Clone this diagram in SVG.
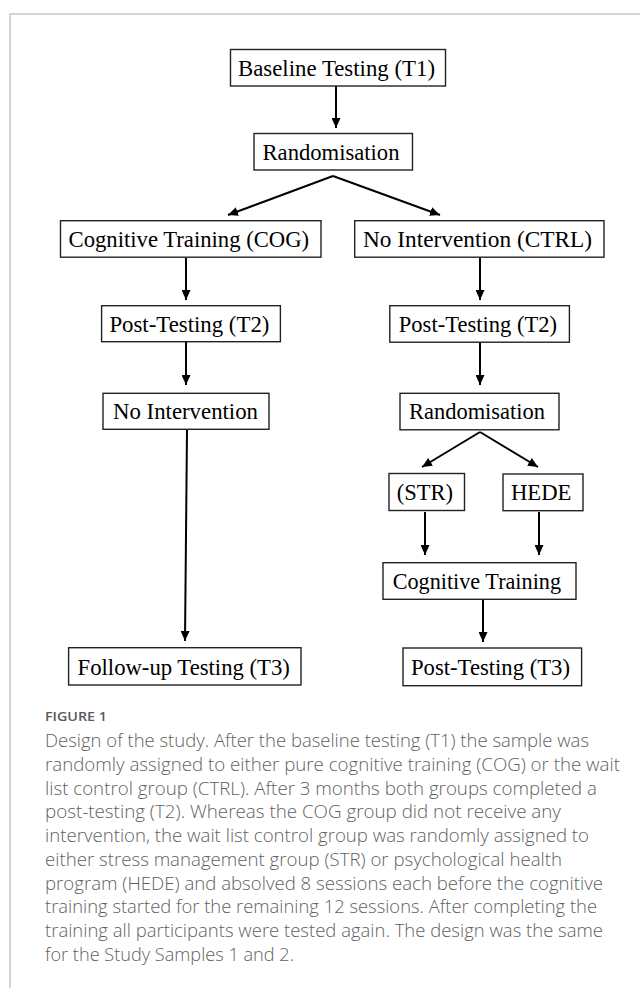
<svg xmlns="http://www.w3.org/2000/svg" width="640" height="988" viewBox="0 0 640 988">
<defs>
<marker id="ah" markerUnits="userSpaceOnUse" markerWidth="10" markerHeight="9" refX="10" refY="4.5" orient="auto">
<path d="M0,0 L10,4.5 L0,9 z" fill="#000"/>
</marker>
<style>
.box{fill:#fff;stroke:#222;stroke-width:1.4}
.lbl{font-family:"Liberation Serif","Times New Roman",serif;font-size:24px;fill:#000;text-anchor:start}
.con{stroke:#000;stroke-width:2;fill:none;marker-end:url(#ah)}
.frame{stroke:#c8c8c8;stroke-width:1.5;fill:none}
.cap{font-family:"Open Sans","Noto Sans",sans-serif;font-size:18.5px;font-weight:300;fill:#5f5f5f}
.fig{font-family:"Open Sans","Noto Sans",sans-serif;font-size:13px;font-weight:600;fill:#5a5a5a}
</style>
</defs>
<rect width="640" height="988" fill="#fff"/>
<path class="frame" d="M640,14 H10 V988"/>

<g id="connectors">
<line class="con" x1="336" y1="86" x2="336" y2="128"/>
<line class="con" x1="333" y1="176" x2="228" y2="215"/>
<line class="con" x1="333" y1="176" x2="440" y2="215"/>
<line class="con" x1="186" y1="258" x2="186" y2="300"/>
<line class="con" x1="480" y1="258" x2="480" y2="300"/>
<line class="con" x1="186" y1="342" x2="186" y2="385"/>
<line class="con" x1="480" y1="342" x2="480" y2="385"/>
<line class="con" x1="187" y1="430" x2="185" y2="641"/>
<line class="con" x1="480" y1="432" x2="422" y2="467"/>
<line class="con" x1="480" y1="432" x2="538" y2="467"/>
<line class="con" x1="425" y1="512" x2="425" y2="555"/>
<line class="con" x1="539" y1="512" x2="539" y2="555"/>
<line class="con" x1="483" y1="600" x2="483" y2="642"/>
</g>

<g id="baseline">
<rect class="box" x="230.5" y="49.5" width="215" height="36.5"/>
<text class="lbl" x="238" y="76" textLength="197" lengthAdjust="spacingAndGlyphs">Baseline Testing (T1)</text>
</g>
<g id="rand1">
<rect class="box" x="254" y="133.5" width="158.5" height="36.5"/>
<text class="lbl" x="262.5" y="160" textLength="137" lengthAdjust="spacingAndGlyphs">Randomisation</text>
</g>
<g id="cog">
<rect class="box" x="60.5" y="220.7" width="260.5" height="36.5"/>
<text class="lbl" x="68.6" y="247" textLength="240.5" lengthAdjust="spacingAndGlyphs">Cognitive Training (COG)</text>
</g>
<g id="ctrl">
<rect class="box" x="354.7" y="220.7" width="249.3" height="36.5"/>
<text class="lbl" x="363" y="247" textLength="229" lengthAdjust="spacingAndGlyphs">No Intervention  (CTRL)</text>
</g>
<g id="post2a">
<rect class="box" x="101.6" y="305.7" width="178.8" height="36"/>
<text class="lbl" x="109.4" y="331.5" textLength="160" lengthAdjust="spacingAndGlyphs">Post-Testing (T2)</text>
</g>
<g id="post2b">
<rect class="box" x="389.8" y="305.7" width="179.6" height="36.5"/>
<text class="lbl" x="398.8" y="331.5" textLength="158.2" lengthAdjust="spacingAndGlyphs">Post-Testing (T2)</text>
</g>
<g id="noint">
<rect class="box" x="103" y="393.3" width="166" height="36"/>
<text class="lbl" x="113" y="419" textLength="145" lengthAdjust="spacingAndGlyphs">No Intervention</text>
</g>
<g id="rand2">
<rect class="box" x="400" y="393.3" width="159" height="36.5"/>
<text class="lbl" x="409" y="419" textLength="136" lengthAdjust="spacingAndGlyphs">Randomisation</text>
</g>
<g id="str">
<rect class="box" x="389" y="473.5" width="75.5" height="37"/>
<text class="lbl" x="396.7" y="500" textLength="56.3" lengthAdjust="spacingAndGlyphs">(STR)</text>
</g>
<g id="hede">
<rect class="box" x="503" y="474" width="80" height="36.7"/>
<text class="lbl" x="511" y="500" textLength="60.4" lengthAdjust="spacingAndGlyphs">HEDE</text>
</g>
<g id="cogtrain">
<rect class="box" x="383" y="562.7" width="193" height="36.6"/>
<text class="lbl" x="392.7" y="589" textLength="168.3" lengthAdjust="spacingAndGlyphs">Cognitive Training</text>
</g>
<g id="followup">
<rect class="box" x="68.6" y="647.7" width="232.4" height="37.3"/>
<text class="lbl" x="77.6" y="674.5" textLength="212.2" lengthAdjust="spacingAndGlyphs">Follow-up Testing (T3)</text>
</g>
<g id="post3">
<rect class="box" x="403" y="648" width="178.6" height="37.7"/>
<text class="lbl" x="411" y="675" textLength="159" lengthAdjust="spacingAndGlyphs">Post-Testing (T3)</text>
</g>

<g id="caption">
<text class="fig" x="45" y="721" textLength="62" lengthAdjust="spacingAndGlyphs">FIGURE 1</text>
<text class="cap" x="45" y="747" textLength="544" lengthAdjust="spacingAndGlyphs">Design of the study. After the baseline testing (T1) the sample was</text>
<text class="cap" x="45" y="771" textLength="575" lengthAdjust="spacingAndGlyphs">randomly assigned to either pure cognitive training (COG) or the wait</text>
<text class="cap" x="45" y="795" textLength="552" lengthAdjust="spacingAndGlyphs">list control group (CTRL). After 3 months both groups completed a</text>
<text class="cap" x="45" y="818" textLength="516" lengthAdjust="spacingAndGlyphs">post-testing (T2). Whereas the COG group did not receive any</text>
<text class="cap" x="45" y="842" textLength="544" lengthAdjust="spacingAndGlyphs">intervention, the wait list control group was randomly assigned to</text>
<text class="cap" x="45" y="866" textLength="517" lengthAdjust="spacingAndGlyphs">either stress management group (STR) or psychological health</text>
<text class="cap" x="45" y="890" textLength="558" lengthAdjust="spacingAndGlyphs">program (HEDE) and absolved 8 sessions each before the cognitive</text>
<text class="cap" x="45" y="913" textLength="552" lengthAdjust="spacingAndGlyphs">training started for the remaining 12 sessions. After completing the</text>
<text class="cap" x="45" y="937" textLength="558" lengthAdjust="spacingAndGlyphs">training all participants were tested again. The design was the same</text>
<text class="cap" x="45" y="961" textLength="249" lengthAdjust="spacingAndGlyphs">for the Study Samples 1 and 2.</text>
</g>
</svg>
